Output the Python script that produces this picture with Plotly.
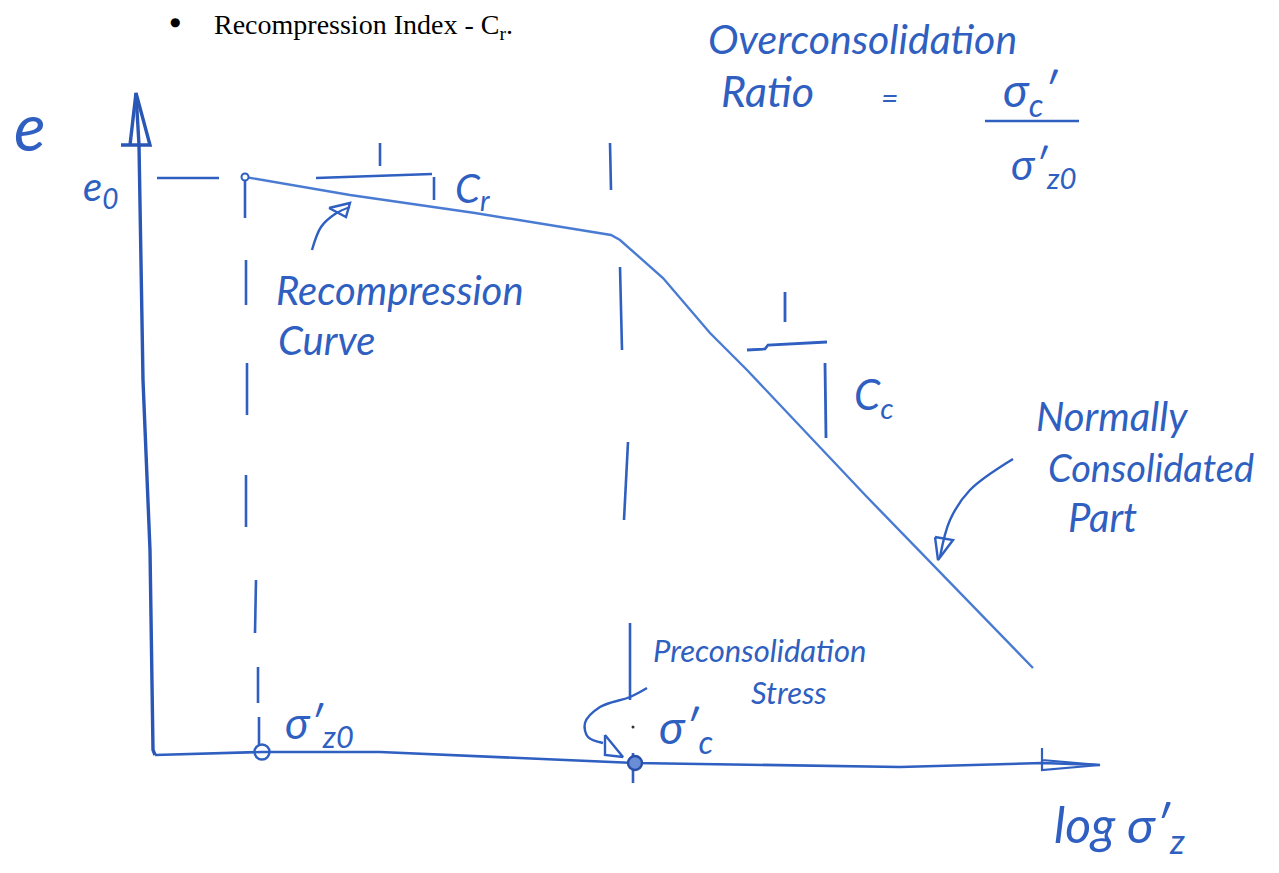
import plotly.graph_objects as go

# ---------------- data (x = log sigma'_z, y = void ratio e; arbitrary sketch units) ----------------
curve_log_s = [0.90, 1.95, 3.20, 4.56, 4.65, 5.08, 5.55, 5.92, 7.12, 8.78]
curve_e = [5.78, 5.60, 5.42, 5.20, 5.15, 4.77, 4.22, 3.85, 2.58, 0.87]

sigma_z0 = 1.07
sigma_c = 4.80
e0 = 5.78

# hand-drawn axes
xaxis_x = [0.0, 1.07, 2.25, 3.68, 4.80, 7.45, 8.87, 9.45]
xaxis_y = [0.0, 0.03, 0.03, -0.03, -0.08, -0.12, -0.08, -0.10]
xhead_x = [8.87, 8.87, 9.45, 8.87]
xhead_y = [0.07, -0.15, -0.10, -0.05]
yaxis_x = [0.0, -0.02, -0.05, -0.12, -0.16, -0.19]
yaxis_y = [0.0, 0.05, 2.05, 3.75, 6.10, 6.62]
yhead_x = [-0.34, -0.05, -0.19, -0.25]
yhead_y = [6.10, 6.10, 6.62, 6.10]

# dashed guide lines (pen strokes)
left_dash_x = [0.90, 0.90, None, 0.91, 0.91, None, 0.92, 0.92, None, 0.91, 0.91, None,
               1.01, 1.00, None, 1.03, 1.03, None, 1.04, 1.04]
left_dash_y = [5.78, 5.37, None, 4.95, 4.50, None, 3.92, 3.40, None, 2.80, 2.28, None,
               1.75, 1.22, None, 0.88, 0.52, None, 0.38, 0.10]
right_dash_x = [4.55, 4.56, None, 4.65, 4.67, None, 4.73, 4.69, None, 4.75, 4.75, None, 4.78, 4.78]
right_dash_y = [6.12, 5.65, None, 4.88, 4.05, None, 3.13, 2.35, None, 1.32, 0.55, None, 0.02, -0.28]
e0_dash_x = [0.02, 0.64]
e0_dash_y = [5.77, 5.77]

# slope triangles
cr_x = [1.61, 2.77, None, 2.25, 2.25, None, 2.79, 2.79]
cr_y = [5.77, 5.81, None, 6.12, 5.89, None, 5.78, 5.55]
cc_x = [5.92, 6.10, 6.13, 6.72, None, 6.30, 6.30, None, 6.70, 6.71]
cc_y = [4.05, 4.06, 4.10, 4.13, None, 4.63, 4.33, None, 3.92, 3.17]

# pointer arrows
rc_arrow_x = [1.57, 1.66, 1.80, 1.95]
rc_arrow_y = [5.05, 5.28, 5.41, 5.48]
rc_head_x = [1.74, 1.95, 1.91, 1.74]
rc_head_y = [5.47, 5.52, 5.38, 5.47]
nc_arrow_x = [8.58, 8.15, 7.95, 7.85]
nc_arrow_y = [2.96, 2.65, 2.35, 1.98]
nc_head_x = [7.80, 7.98, 7.83, 7.80]
nc_head_y = [2.18, 2.15, 1.95, 2.18]
pc_arrow_x = [4.92, 4.75, 4.45, 4.30, 4.33, 4.48]
pc_arrow_y = [0.67, 0.58, 0.48, 0.32, 0.18, 0.12]
pc_head_x = [4.50, 4.50, 4.68, 4.50]
pc_head_y = [0.20, 0.00, -0.02, 0.20]
ocr_bar_x = [8.30, 9.24]
ocr_bar_y = [6.34, 6.34]

PEN = "#2f5fc0"
CURVE = "#4a7bd3"
HAND = "Lato"

fig = go.Figure()


def stroke(x, y, color=PEN, width=2.6, shape="linear"):
    fig.add_trace(go.Scatter(x=x, y=y, mode="lines", hoverinfo="skip", showlegend=False,
                             line=dict(color=color, width=width, shape=shape),
                             connectgaps=False))


stroke(xaxis_x, xaxis_y, width=2.6)
stroke(xhead_x, xhead_y, width=2.2)
stroke(yaxis_x, yaxis_y, color="#2a56b5", width=3.4)
stroke(yhead_x, yhead_y, color="#2a56b5", width=3.4)
stroke(left_dash_x, left_dash_y, width=2.6)
stroke(right_dash_x, right_dash_y, width=2.6)
stroke(e0_dash_x, e0_dash_y, width=2.6)
stroke(cr_x, cr_y, width=2.6)
stroke(cc_x, cc_y, width=2.8)
stroke(rc_arrow_x, rc_arrow_y, width=2.4, shape="spline")
stroke(rc_head_x, rc_head_y, width=2.4)
stroke(nc_arrow_x, nc_arrow_y, width=2.4, shape="spline")
stroke(nc_head_x, nc_head_y, width=2.4)
stroke(pc_arrow_x, pc_arrow_y, width=2.4, shape="spline")
stroke(pc_head_x, pc_head_y, width=2.4)
stroke(ocr_bar_x, ocr_bar_y, width=2.6)

# e - log sigma' curve
fig.add_trace(go.Scatter(x=curve_log_s, y=curve_e, mode="lines", showlegend=False,
                         line=dict(color=CURVE, width=2.4), hoverinfo="skip"))
# e0 start point
fig.add_trace(go.Scatter(x=[curve_log_s[0]], y=[e0], mode="markers", showlegend=False,
                         marker=dict(size=7, color="white", line=dict(color=PEN, width=2)),
                         hoverinfo="skip"))
# stress markers on axis
fig.add_trace(go.Scatter(x=[sigma_z0], y=[0.03], mode="markers", showlegend=False,
                         marker=dict(size=15, color="rgba(0,0,0,0)", line=dict(color=PEN, width=2.4)),
                         hoverinfo="skip"))
fig.add_trace(go.Scatter(x=[sigma_c], y=[-0.08], mode="markers", showlegend=False,
                         marker=dict(size=14, color="#6a8dd8", line=dict(color="#2a4fa8", width=2.4)),
                         hoverinfo="skip"))
fig.add_trace(go.Scatter(x=[sigma_c - 0.02], y=[0.28], mode="markers", showlegend=False,
                         marker=dict(size=3, color="#333"), hoverinfo="skip"))


def note(x, y, text, size, anchor="left", color=PEN, family=HAND, style="italic", yanchor="middle"):
    fig.add_annotation(x=x, y=y, xref="x", yref="y", text=text, showarrow=False,
                       xanchor=anchor, yanchor=yanchor, borderpad=0,
                       font=dict(family=family, size=size, color=color, style=style))


note(-1.25, 6.30, "e", 66, anchor="center")
note(-0.55, 5.67, "e<sub>0</sub>", 40, anchor="center")
note(2.99, 5.65, "C<sub>r</sub>", 40)
note(1.20, 4.65, "Recompression", 40)
note(1.22, 4.15, "Curve", 40)
note(6.98, 3.58, "C<sub>c</sub>", 42)
note(8.80, 3.39, "Normally", 40)
note(8.92, 2.88, "Consolidated", 38)
note(9.12, 2.38, "Part", 40)
note(4.97, 1.05, "Preconsolidation", 31)
note(5.95, 0.63, "Stress", 31)
note(1.29, 0.30, "σ′<sub>z0</sub>", 44)
note(5.03, 0.25, "σ′<sub>c</sub>", 46)
note(8.98, -0.72, "log σ′<sub>z</sub>", 50)
note(5.52, 7.17, "Overconsolidation", 41)
note(5.65, 6.65, "Ratio", 43)
note(7.34, 6.58, "=", 30, anchor="center")
note(8.47, 6.62, "σ<sub>c</sub>′", 46)
note(8.55, 5.88, "σ′<sub>z0</sub>", 42)

# printed heading line
note(0.20, 7.33, "●", 12, anchor="center", color="black", family="DejaVu Sans", style="normal")
note(0.58, 7.47, "Recompression Index - C<sub>r</sub>.", 28, color="black",
     family="Liberation Serif", style="normal", yanchor="top")

fig.update_layout(
    width=1279, height=873,
    margin=dict(l=0, r=0, t=0, b=0),
    paper_bgcolor="white", plot_bgcolor="white",
    xaxis=dict(range=[-1.47, 11.32], visible=False, fixedrange=True),
    yaxis=dict(range=[-1.26, 7.47], visible=False, fixedrange=True),
    showlegend=False,
)

fig.write_html("out.html")
